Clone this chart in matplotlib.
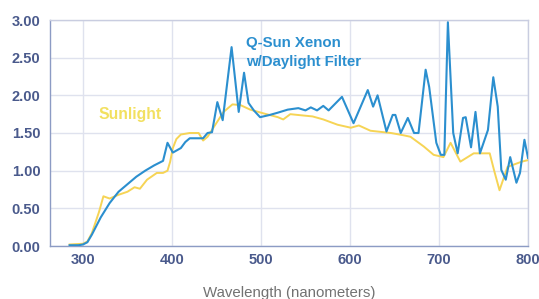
import matplotlib
matplotlib.use("Agg")
import matplotlib.pyplot as plt

qsun_nm = [285, 295, 300, 305, 310, 320, 330, 340, 350, 360, 370, 380, 385, 390, 395, 401,
           410, 415, 420, 435, 440, 445, 451, 457, 467, 475, 481, 486, 492, 499, 510, 519,
           530, 542, 550, 556, 563, 570, 576, 591, 604, 620, 626, 631, 641, 648, 651, 657,
           665, 672, 677, 685, 689, 697, 702, 706, 710, 716, 721, 727, 730, 736, 741, 746,
           755, 761, 766, 770, 775, 780, 787, 791, 796, 800]
qsun_val = [0.01, 0.01, 0.02, 0.05, 0.15, 0.38, 0.57, 0.72, 0.82, 0.92, 1.00, 1.07, 1.10, 1.13, 1.37, 1.24,
            1.30, 1.38, 1.43, 1.43, 1.50, 1.51, 1.91, 1.67, 2.64, 1.78, 2.30, 1.90, 1.80, 1.71, 1.74, 1.77,
            1.81, 1.83, 1.80, 1.84, 1.80, 1.86, 1.80, 1.98, 1.63, 2.07, 1.85, 2.00, 1.52, 1.74, 1.74, 1.50,
            1.70, 1.50, 1.50, 2.34, 2.11, 1.37, 1.21, 1.21, 2.97, 1.50, 1.23, 1.70, 1.71, 1.31, 1.78, 1.23,
            1.54, 2.24, 1.85, 1.01, 0.88, 1.18, 0.84, 0.97, 1.41, 1.17]

sun_nm = [285, 300, 305, 310, 318, 323, 330, 340, 350, 358, 364, 372, 383, 390, 395, 398, 401,
          405, 410, 420, 430, 435, 440, 446, 458, 468, 477, 488, 503, 519, 525, 533, 541, 558,
          570, 586, 601, 610, 623, 646, 660, 668, 683, 694, 705, 713, 724, 739, 757, 762, 768,
          777, 793, 800]
sun_val = [0.02, 0.03, 0.06, 0.17, 0.45, 0.66, 0.63, 0.68, 0.72, 0.78, 0.76, 0.88, 0.97, 0.97, 1.00, 1.12, 1.30,
           1.42, 1.48, 1.50, 1.50, 1.40, 1.45, 1.56, 1.78, 1.88, 1.87, 1.81, 1.76, 1.71, 1.68, 1.75, 1.74, 1.72,
           1.68, 1.61, 1.57, 1.60, 1.53, 1.50, 1.47, 1.45, 1.32, 1.21, 1.18, 1.37, 1.12, 1.23, 1.23, 1.00, 0.74,
           1.05, 1.12, 1.14]

x_ticks = [300, 400, 500, 600, 700, 800]
y_ticks = [0.0, 0.5, 1.0, 1.5, 2.0, 2.5, 3.0]
y_labels = ["0.00", "0.50", "1.00", "1.50", "2.00", "2.50", "3.00"]

plt.rcParams['font.family'] = ['Liberation Sans', 'DejaVu Sans']

fig = plt.figure(figsize=(5.39, 2.99), dpi=100)
ax = fig.add_axes([50/539, 53/299, 478/539, 226/299])

blue = '#2b8fcf'
yellow = '#f6d455'
label_yellow = '#f2e060'
tick_col = '#4a5a8c'

ax.plot(sun_nm, sun_val, color=yellow, lw=1.4, zorder=3)
ax.plot(qsun_nm, qsun_val, color=blue, lw=1.5, zorder=4)

ax.set_xlim(263, 800)
ax.set_ylim(0, 3.0)
ax.set_xticks(x_ticks)
ax.set_yticks(y_ticks)
ax.set_yticklabels(y_labels)
ax.grid(True, color='#dfe2ee', lw=1.0, zorder=0)
ax.set_axisbelow(True)
for s in ['top', 'right']:
    ax.spines[s].set_color('#c9cde0')
    ax.spines[s].set_linewidth(1.0)
for s in ['left', 'bottom']:
    ax.spines[s].set_color('#8c9bc4')
    ax.spines[s].set_linewidth(1.0)
ax.tick_params(length=0, labelsize=10.5, labelcolor=tick_col)
ax.tick_params(axis='y', pad=7)
ax.tick_params(axis='x', pad=5)
for lab in ax.get_xticklabels() + ax.get_yticklabels():
    lab.set_fontweight('bold')

ax.set_xlabel('Wavelength (nanometers)', color='#727272', fontsize=10.8, labelpad=14)

ax.text(483, 2.69, 'Q-Sun Xenon', color=blue, fontsize=10.8,
        fontweight='bold', va='center', ha='left')
ax.text(483, 2.44, 'w/Daylight Filter', color=blue, fontsize=10.8,
        fontweight='bold', va='center', ha='left')
ax.text(318, 1.75, 'Sunlight', color=label_yellow, fontsize=11.3, fontweight='bold', va='center', ha='left')

fig.savefig('out.png', dpi=100)
